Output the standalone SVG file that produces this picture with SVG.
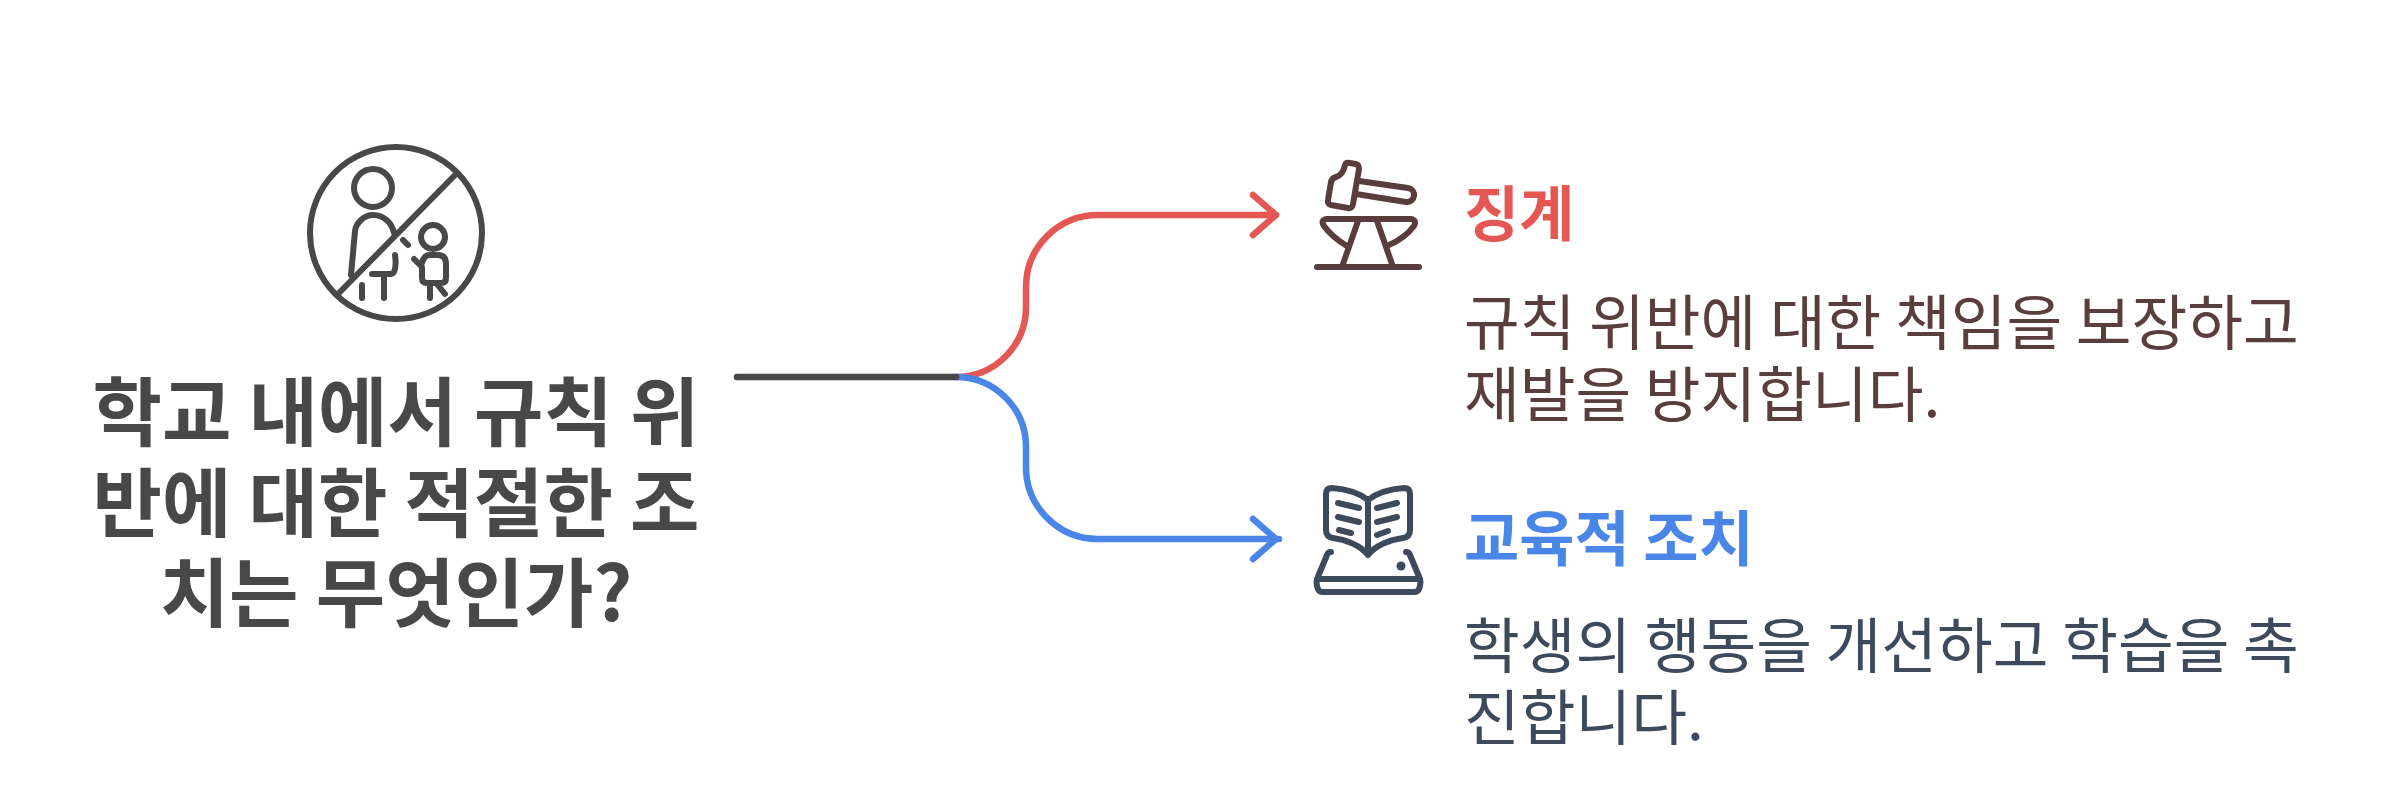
<svg xmlns="http://www.w3.org/2000/svg" width="2394" height="787" viewBox="0 0 2394 787">
<style>
text{font-family:"Noto Sans CJK KR","Noto Sans",sans-serif}
.t{font-size:75.5px;font-weight:700;fill:#484848;text-anchor:middle}
.h{font-size:60px;font-weight:700}
.b{font-size:60.6px;font-weight:400}
.i{fill:none;stroke-width:6;stroke-linecap:round;stroke-linejoin:round}
.c{fill:none;stroke-width:6.5;stroke-linecap:round;stroke-linejoin:round}
</style>
<rect width="2394" height="787" fill="#fff"/>
<g id="connectors">
<path class="c" stroke="#e55753" d="M956 377A70 70 0 0 0 1026 307V287A72 72 0 0 1 1098 215H1276M1253 195L1276 215L1253 235"/>
<path class="c" stroke="#4a86e8" d="M956 377A70 70 0 0 1 1026 447V467A72 72 0 0 0 1098 539H1279M1253 519L1276 539L1253 559"/>
<path class="c" stroke="#484848" d="M737 377H956"/>
</g>
<g id="root">
<g class="i" stroke="#484848">
<circle cx="396" cy="233" r="86"/>
<line x1="337" y1="295" x2="455" y2="175"/>
<circle cx="373" cy="188" r="19"/>
<path d="M351 275L355 231C356 223 364 215 373 215C384 215 392 223 394 233"/>
<path d="M403 240L408 245M395 255C396 262 396 268 394 272Q393 274 390 274H372M384 275V298M362 285V298"/>
<circle cx="433" cy="237" r="12"/>
<path d="M414 259L422 267V278Q422 283 427 283H441Q446 283 446 278V264Q446 255 438 255H430Q424 255 422 263M430 283V298M437 284L445 294"/>
</g>
<text class="t" x="396" y="440">학교 내에서 규칙 위</text>
<text class="t" x="396" y="530.5">반에 대한 적절한 조</text>
<text class="t" x="396" y="621">치는 무엇인가?</text>
</g>
<g id="discipline">
<g class="i" stroke="#5a3d3d">
<path d="M1345 165Q1346 162 1350 163L1356 164Q1359 165 1359 169L1353 204Q1352 209 1348 208L1331 205Q1327 204 1328 200L1331 182Q1332 178 1336 177Q1343 175 1345 165Z"/>
<path d="M1359 181L1408 188A7 7 0 0 1 1406 202L1356 194"/>
<path d="M1327 219H1411Q1417 220 1414 226Q1405 238 1389 245M1327 219Q1320 220 1324 226Q1332 237 1347 246"/>
<path d="M1358 221L1343 264M1377 221L1392 264M1317 267H1419"/>
</g>
<text class="h" x="1464" y="236" fill="#e55753">징계</text>
<text class="b" x="1464" y="345" fill="#5a3d3d">규칙 위반에 대한 책임을 보장하고</text>
<text class="b" x="1464" y="417" fill="#5a3d3d">재발을 방지합니다.</text>
</g>
<g id="education">
<g class="i" stroke="#3d4a5c">
<path d="M1368 500C1358 492 1345 489 1332 488Q1326 488 1326 494V530Q1326 537 1333 538C1346 540 1360 545 1368 555C1376 545 1390 540 1403 538Q1410 537 1410 530V494Q1410 488 1404 488C1391 489 1378 492 1368 500ZM1368 500V555"/>
<path d="M1338 503L1359 508M1338 517L1359 522M1339 530L1351 533M1377 508L1397 503M1377 522L1397 517M1377 535L1388 531"/>
<path d="M1331 552Q1328 552 1327 555L1317 579Q1316 582 1317 586L1318 589Q1319 592 1323 592H1414Q1418 592 1419 589L1420 586Q1421 582 1420 579L1410 555Q1409 552 1406 552M1317 579H1420"/>
</g>
<circle cx="1401" cy="566" r="4.5" fill="#3d4a5c"/>
<text class="h" x="1464" y="561" fill="#4a86e8">교육적 조치</text>
<text class="b" x="1464" y="668" fill="#3d4a5c">학생의 행동을 개선하고 학습을 촉</text>
<text class="b" x="1464" y="740" fill="#3d4a5c">진합니다.</text>
</g>
</svg>
